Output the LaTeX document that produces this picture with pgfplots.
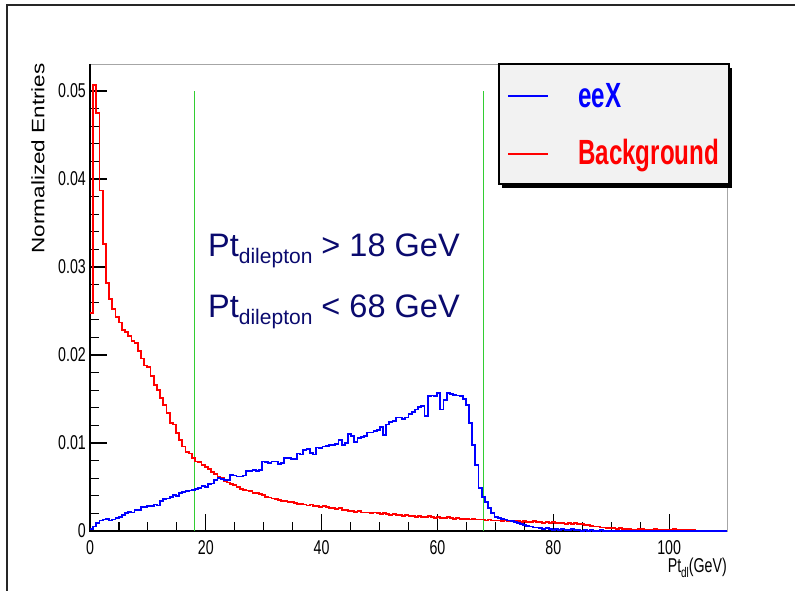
\documentclass[border=0pt]{standalone}
\usepackage{fontspec}
\setmainfont{Liberation Sans}
\newfontfamily\condfont{Liberation Sans}[FakeStretch=0.71]
\newfontfamily\legfont{Liberation Sans}[FakeStretch=0.69]
\usepackage{graphicx}
\usepackage{pgfplots}
\usepackage{pgfplotstable}
\pgfplotsset{compat=1.18}
\definecolor{rootgreen}{RGB}{50,205,50}
\definecolor{navytext}{RGB}{10,10,110}
\definecolor{leggray}{RGB}{242,242,242}
\newcommand\tickfont{\condfont\fontsize{20}{20}\selectfont}

% bin left edges (0.55 GeV bins), background and eeX normalized entries
\pgfplotstableread{
x bg sig
0 0.0248 0.0002
0.55 0.0507 0.0005
1.1 0.0475 0.0009
1.65 0.0387 0.0012
2.2 0.0326 0.0013
2.75 0.0282 0.0014
3.3 0.0264 0.0012
3.85 0.0252 0.0013
4.4 0.0243 0.0015
4.95 0.0237 0.0016
5.5 0.0228 0.0018
6.05 0.0226 0.0020
6.6 0.0222 0.0022
7.15 0.0216 0.0021
7.7 0.0214 0.0024
8.25 0.0205 0.0024
8.8 0.0196 0.0027
9.35 0.0188 0.0027
9.9 0.0186 0.0028
10.45 0.0176 0.0028
11 0.0166 0.0030
11.55 0.0160 0.0029
12.1 0.0151 0.0034
12.65 0.0143 0.0036
13.2 0.0134 0.0037
13.75 0.0123 0.0039
14.3 0.0121 0.0041
14.85 0.0111 0.0040
15.4 0.0103 0.0043
15.95 0.0096 0.0044
16.5 0.0090 0.0045
17.05 0.0088 0.0046
17.6 0.0083 0.0047
18.15 0.0079 0.0048
18.7 0.0078 0.0049
19.25 0.0075 0.0051
19.8 0.0073 0.0050
20.35 0.0070 0.0053
20.9 0.0067 0.0054
21.45 0.0065 0.0058
22 0.0061 0.0060
22.55 0.0060 0.0059
23.1 0.0057 0.0058
23.65 0.0055 0.0058
24.2 0.0053 0.0064
24.75 0.0052 0.0063
25.3 0.0050 0.0062
25.85 0.0048 0.0062
26.4 0.0047 0.0063
26.95 0.0046 0.0068
27.5 0.0045 0.0068
28.05 0.0043 0.0069
28.6 0.0043 0.0068
29.15 0.0042 0.0069
29.7 0.0041 0.0079
30.25 0.0039 0.0078
30.8 0.0038 0.0077
31.35 0.0037 0.0079
31.9 0.0036 0.0079
32.45 0.0035 0.0076
33 0.0034 0.0077
33.55 0.0034 0.0083
34.1 0.0033 0.0083
34.65 0.0033 0.0082
35.2 0.0032 0.0082
35.75 0.0031 0.0088
36.3 0.0031 0.0087
36.85 0.0030 0.0092
37.4 0.0029 0.0093
37.95 0.0030 0.0089
38.5 0.0028 0.0087
39.05 0.0028 0.0095
39.6 0.0027 0.0094
40.15 0.0028 0.0096
40.7 0.0027 0.0097
41.25 0.0026 0.0098
41.8 0.0026 0.0098
42.35 0.0025 0.0099
42.9 0.0026 0.0103
43.45 0.0024 0.0098
44 0.0024 0.0100
44.55 0.0023 0.0110
45.1 0.0023 0.0108
45.65 0.0022 0.0101
46.2 0.0023 0.0106
46.75 0.0021 0.0107
47.3 0.0021 0.0108
47.85 0.0021 0.0112
48.4 0.0020 0.0112
48.95 0.0021 0.0114
49.5 0.0020 0.0115
50.05 0.0019 0.0118
50.6 0.0020 0.0109
51.15 0.0019 0.0121
51.7 0.0018 0.0124
52.25 0.0019 0.0125
52.8 0.0018 0.0129
53.35 0.0018 0.0129
53.9 0.0017 0.0127
54.45 0.0018 0.0129
55 0.0017 0.0133
55.55 0.0017 0.0135
56.1 0.0016 0.0138
56.65 0.0017 0.0141
57.2 0.0016 0.0142
57.75 0.0016 0.0131
58.3 0.0017 0.0153
58.85 0.0016 0.0154
59.4 0.0015 0.0153
59.95 0.0016 0.0157
60.5 0.0015 0.0138
61.05 0.0015 0.0149
61.6 0.0016 0.0157
62.15 0.0015 0.0156
62.7 0.0014 0.0155
63.25 0.0015 0.0154
63.8 0.0014 0.0153
64.35 0.0014 0.0150
64.9 0.0014 0.0143
65.45 0.0013 0.0123
66 0.0014 0.0098
66.55 0.0013 0.0075
67.1 0.0013 0.0049
67.65 0.0013 0.0039
68.2 0.0012 0.0033
68.75 0.0013 0.0026
69.3 0.0012 0.0020
69.85 0.0012 0.0016
70.4 0.0012 0.0015
70.95 0.0011 0.0014
71.5 0.0012 0.0013
72.05 0.0011 0.0012
72.6 0.0011 0.0011
73.15 0.0011 0.0010
73.7 0.0011 0.0009
74.25 0.0010 0.0008
74.8 0.0011 0.0007
75.35 0.0010 0.0006
75.9 0.0010 0.0005
76.45 0.0011 0.0004
77 0.0010 0.0004
77.55 0.0010 0.0003
78.1 0.0009 0.0002
78.65 0.0010 0.0003
79.2 0.0009 0.0002
79.75 0.0010 0.0001
80.3 0.0009 0.0002
80.85 0.0009 0.0001
81.4 0.0009 0.0002
81.95 0.0008 0.0001
82.5 0.0009 0.0001
83.05 0.0008 0.0002
83.6 0.0009 0.0001
84.15 0.0008 0.0001
84.7 0.0008 0.0000
85.25 0.0007 0.0001
85.8 0.0007 0.0000
86.35 0.0006 0.0001
86.9 0.0005 0.0000
87.45 0.0005 0.0000
88 0.0004 0.0001
88.55 0.0004 0
89.1 0.0003 0
90.75 0.0002 0
91.3 0.0003 0
91.85 0.0002 0
93.5 0.0001 0
94.6 0.0002 0
95.7 0.0001 0
97.35 0.0002 0
97.9 0.0001 0
100.65 0.0002 0
101.2 0.0001 0
104.5 0 0
110 0 0
}\histdata

\begin{document}
\begin{tikzpicture}
\useasboundingbox (-90pt,-60pt) rectangle (705pt,531pt);
% canvas frame
\draw[line width=2pt, black!85] (-83pt,-61pt) -- (-83pt,526pt) -- (706pt,526pt);
\begin{axis}[
    at={(0pt,0pt)}, anchor=south west,
    scale only axis, width=637pt, height=467pt,
    xmin=0, xmax=110, ymin=0, ymax=0.05307,
    scaled x ticks=false, scaled y ticks=false,
    xtick={0,20,40,60,80,100}, xticklabels={0,20,40,60,80,100},
    ytick={0,0.01,0.02,0.03,0.04,0.05}, yticklabels={0,0.01,0.02,0.03,0.04,0.05},
    minor x tick num=3, minor y tick num=4,
    tick align=inside, tick pos=left,
    major tick length=17pt, minor tick length=9pt,
    tick style={black, line width=1.1pt},
    axis line style={gray!70, line width=0.8pt},
    x tick label style={font=\tickfont, anchor=north, inner sep=0pt, yshift=-9pt},
    y tick label style={font=\tickfont, anchor=east, inner sep=0pt, xshift=-4pt},
    xlabel={\tickfont Pt\raisebox{-5pt}[0pt][0pt]{\fontsize{14}{14}\selectfont dl}(GeV)},
    ylabel={\scalebox{1}[0.8]{\fontsize{22.5}{22.5}\selectfont Normalized Entries}},
    every axis x label/.style={at={(axis description cs:1,0)}, anchor=base east, yshift=-42pt, inner sep=0pt},
    every axis y label/.style={at={(axis description cs:-0.0816,1.002)}, rotate=90, anchor=east, inner sep=0pt},
    clip=false,
]
\draw[black, line width=2pt] (rel axis cs:0,1) -- (rel axis cs:0,0) -- (rel axis cs:1,0);
\addplot[rootgreen, line width=1.2pt] coordinates {(18,0) (18,0.05)};
\addplot[rootgreen, line width=1.2pt] coordinates {(68,0) (68,0.05)};
\addplot[const plot, red, line width=1.8pt] table[x=x, y=bg] {\histdata};
\addplot[const plot, blue, line width=1.8pt] table[x=x, y=sig] {\histdata};
\end{axis}

% legend box with shadow
\fill[black] (412pt,343pt) rectangle (642pt,463pt);
\filldraw[fill=leggray, draw=black, line width=1.2pt] (409pt,347pt) rectangle (639pt,467pt);
\draw[blue, line width=1.6pt] (418pt,435pt) -- (458pt,435pt);
\draw[red, line width=1.6pt] (418pt,377pt) -- (458pt,377pt);
\node[anchor=base west, inner sep=0pt, text=blue] at (488pt,423pt) {\legfont\bfseries\fontsize{35}{35}\selectfont eeX};
\node[anchor=base west, inner sep=0pt, text=red] at (488pt,366pt) {\legfont\bfseries\fontsize{35}{35}\selectfont Background};

% cut annotation
\node[anchor=base west, inner sep=0pt, text=navytext] at (118pt,274.3pt)
  {\fontsize{32.5}{32.5}\selectfont Pt\raisebox{-6.6pt}{\fontsize{21}{21}\selectfont dilepton} > 18 GeV};
\node[anchor=base west, inner sep=0pt, text=navytext] at (118pt,213pt)
  {\fontsize{32.5}{32.5}\selectfont Pt\raisebox{-6.6pt}{\fontsize{21}{21}\selectfont dilepton} < 68 GeV};
\end{tikzpicture}
\end{document}
